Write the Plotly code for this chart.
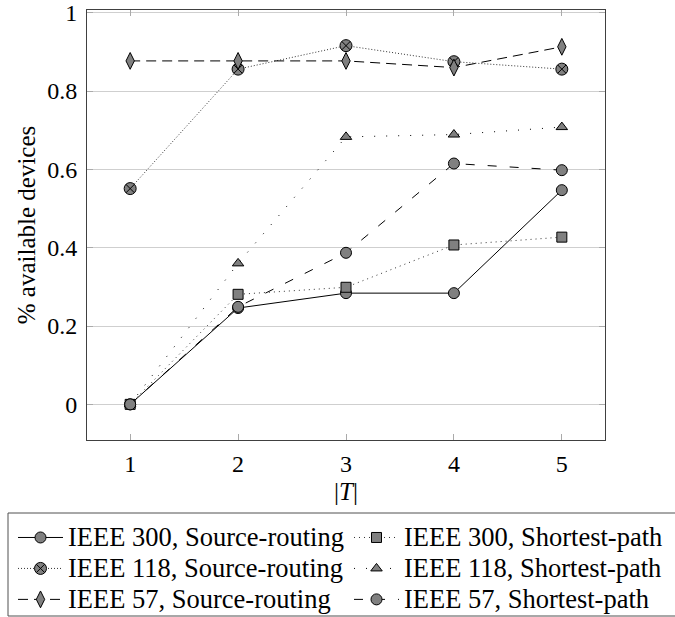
import plotly.graph_objects as go

T = [1, 2, 3, 4, 5]
ieee300_sr = [0.0, 0.246, 0.284, 0.284, 0.547]
ieee300_sp = [0.0, 0.281, 0.299, 0.407, 0.427]
ieee118_sr = [0.551, 0.856, 0.916, 0.875, 0.856]
ieee118_sp = [0.0, 0.360, 0.683, 0.689, 0.708]
ieee57_sr = [0.877, 0.877, 0.877, 0.860, 0.913]
ieee57_sp = [0.0, 0.249, 0.387, 0.615, 0.598]

names = [
    "IEEE 300, Source-routing",
    "IEEE 300, Shortest-path",
    "IEEE 118, Source-routing",
    "IEEE 118, Shortest-path",
    "IEEE 57, Source-routing",
    "IEEE 57, Shortest-path",
]
series = [ieee300_sr, ieee300_sp, ieee118_sr, ieee118_sp, ieee57_sr, ieee57_sp]
symbols = ["circle", "square", "circle-x", "triangle-up", "diamond-tall", "circle"]
sizes = [11, 10, 12, 10, 12, 11]
dashes = ["solid", "1px,4px", "1px,2px", "1px,11px", "10px,6px", "9px,13px"]
lcolors = ["#000000", "#333333", "#333333", "#000000", "#000000", "#000000"]
legend_col = ["legend", "legend2", "legend", "legend2", "legend", "legend2"]

FONT = "Liberation Serif"
TFS = 24   # tick labels
AFS = 25   # axis titles
LFS = 26.5  # legend text as drawn
LROW = 21.5  # legend font size that sets the row pitch

L, TOP, PW, PH = 87, 10, 518, 430
W, H = 675, 617


def px_x(p):
    return (p - L) / PW


def px_y(p):
    return (TOP + PH - p) / PH


fig = go.Figure()
for i, (nm, ys, sym, sz, ds, lc, lg) in enumerate(zip(names, series, symbols, sizes, dashes, lcolors, legend_col)):
    fig.add_trace(go.Scatter(
        x=T, y=ys, mode="lines+markers",
        name="<span style='font-size:%gpx'>%s</span>" % (LFS, nm),
        line=dict(color=lc, width=1, dash=ds),
        marker=dict(symbol=sym, size=sz, color="#808080",
                    line=dict(color="#000000", width=1)),
        legend=lg, legendgroup=lg,
    ))

axis_common = dict(
    showline=True, linecolor="#404040", linewidth=1, mirror="ticks",
    ticks="inside", ticklen=6, tickcolor="#aaaaaa",
    tickfont=dict(family=FONT, size=TFS, color="#000000"),
    zeroline=False, ticklabeloverflow="allow",
)

fig.update_xaxes(range=[0.6, 5.4], tickvals=T, showgrid=False, ticklabelstandoff=2,
                 title=dict(text="|<i>T</i>|", font=dict(family=FONT, size=AFS, color="#000000"), standoff=6),
                 **axis_common)
fig.update_yaxes(range=[-0.091, 1.007], dtick=0.2, tick0=0, showgrid=True,
                 gridcolor="#cfcfcf", gridwidth=1, ticklabelstandoff=4,
                 title=dict(text="% available devices", font=dict(family=FONT, size=AFS, color="#000000"), standoff=4),
                 **axis_common)

leg_common = dict(
    orientation="v", yanchor="top", y=px_y(517), xanchor="left",
    bgcolor="rgba(0,0,0,0)", borderwidth=0, itemwidth=45,
    tracegroupgap=0, traceorder="normal",
    font=dict(family=FONT, size=LROW, color="#000000"),
)

fig.update_layout(
    width=W, height=H,
    margin=dict(l=L, r=W - L - PW, t=TOP, b=H - TOP - PH, autoexpand=False),
    plot_bgcolor="white", paper_bgcolor="white",
    font=dict(family=FONT, size=TFS, color="#000000"),
    showlegend=True,
    legend=dict(x=px_x(13), **leg_common),
    legend2=dict(x=px_x(349), **leg_common),
    shapes=[dict(type="rect", xref="paper", yref="paper",
                 x0=px_x(8), x1=px_x(690), y0=px_y(616), y1=px_y(513),
                 line=dict(color="#505050", width=1), fillcolor="rgba(0,0,0,0)")],
)

fig.write_html("out.html", config={"displayModeBar": False},
               post_script="document.body.style.margin='0px';")
